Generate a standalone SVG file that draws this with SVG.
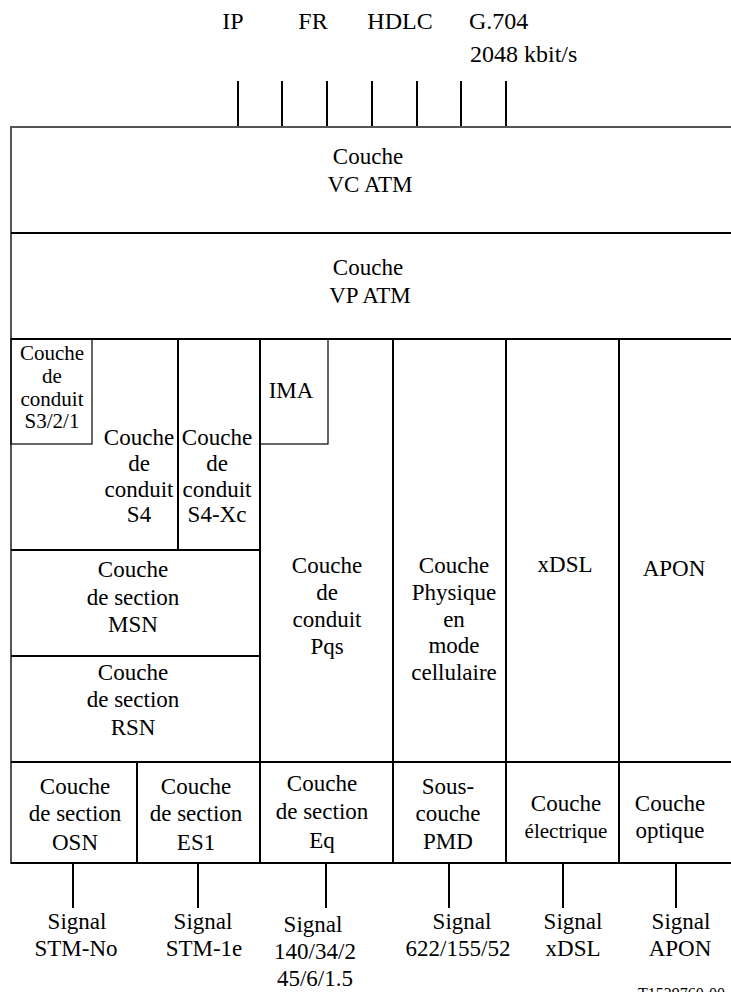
<svg xmlns="http://www.w3.org/2000/svg" width="731" height="992" viewBox="0 0 731 992" font-family="Liberation Serif, Tinos, DejaVu Serif, Noto Serif, serif">
  <style>
    text { font-size: 23px; fill: #000; text-anchor: middle; }
    .top { font-size: 24px; }
    .left { text-anchor: start; }
    .small { font-size: 21px; }
    .code { font-size: 16px; text-anchor: start; }
    .ln { stroke: #000; stroke-width: 2; fill: none; }
    .thin { stroke: #000; stroke-width: 1.2; fill: none; }
    .edge { stroke: #555; stroke-width: 2; fill: none; }
  </style>

  <rect width="731" height="992" fill="#fff"/>

  <!-- input protocols above the stack -->
  <g id="inputs">
    <text class="top" x="233" y="29">IP</text>
    <text class="top" x="313" y="29">FR</text>
    <text class="top" x="400" y="29">HDLC</text>
    <text class="top left" x="469" y="29">G.704</text>
    <text class="top left" x="470" y="62">2048 kbit/s</text>
  </g>

  <!-- connectors: input ticks and output signal ticks -->
  <g id="connectors" class="ln">
    <line x1="238" y1="81" x2="238" y2="127"/>
    <line x1="282" y1="81" x2="282" y2="127"/>
    <line x1="327" y1="81" x2="327" y2="127"/>
    <line x1="372" y1="81" x2="372" y2="127"/>
    <line x1="417" y1="81" x2="417" y2="127"/>
    <line x1="461" y1="81" x2="461" y2="127"/>
    <line x1="506" y1="81" x2="506" y2="127"/>

    <line x1="73" y1="863" x2="73" y2="908"/>
    <line x1="198" y1="863" x2="198" y2="908"/>
    <line x1="326" y1="863" x2="326" y2="908"/>
    <line x1="449" y1="863" x2="449" y2="908"/>
    <line x1="563" y1="863" x2="563" y2="908"/>
    <line x1="676" y1="863" x2="676" y2="908"/>
  </g>

  <!-- layer grid -->
  <g id="grid">
    <line class="edge" x1="11" y1="127" x2="733" y2="127"/>
    <line class="edge" x1="11" y1="126" x2="11" y2="864"/>
    <line class="ln" x1="11" y1="863" x2="733" y2="863"/>
    <line class="ln" x1="11" y1="233" x2="733" y2="233"/>
    <line class="ln" x1="11" y1="339" x2="733" y2="339"/>
    <line class="ln" x1="11" y1="550" x2="260" y2="550"/>
    <line class="ln" x1="11" y1="656" x2="260" y2="656"/>
    <line class="ln" x1="11" y1="762" x2="733" y2="762"/>
    <line class="ln" x1="178" y1="339" x2="178" y2="550"/>
    <line class="ln" x1="260" y1="339" x2="260" y2="863"/>
    <line class="ln" x1="393" y1="339" x2="393" y2="863"/>
    <line class="ln" x1="506" y1="339" x2="506" y2="863"/>
    <line class="ln" x1="619" y1="339" x2="619" y2="863"/>
    <line class="ln" x1="137" y1="762" x2="137" y2="863"/>
  </g>

  <g id="vc-atm">
    <text x="368" y="164">Couche</text>
    <text x="370" y="192">VC ATM</text>
  </g>

  <g id="vp-atm">
    <text x="368" y="275">Couche</text>
    <text x="370" y="303">VP ATM</text>
  </g>

  <g id="conduit-s321">
    <rect class="thin" x="11" y="339" width="81" height="105"/>
    <text class="small" x="52" y="360">Couche</text>
    <text class="small" x="52" y="383">de</text>
    <text class="small" x="52" y="406">conduit</text>
    <text class="small" x="52" y="428">S3/2/1</text>
  </g>

  <g id="conduit-s4">
    <text x="139" y="445">Couche</text>
    <text x="139" y="471">de</text>
    <text x="139" y="497">conduit</text>
    <text x="139" y="522">S4</text>
  </g>

  <g id="conduit-s4xc">
    <text x="217" y="445">Couche</text>
    <text x="217" y="471">de</text>
    <text x="217" y="497">conduit</text>
    <text x="217" y="522">S4-Xc</text>
  </g>

  <g id="ima">
    <rect class="thin" x="260" y="339" width="68" height="105"/>
    <text x="291" y="398">IMA</text>
  </g>

  <g id="section-msn">
    <text x="133" y="577">Couche</text>
    <text x="133" y="605">de section</text>
    <text x="133" y="632">MSN</text>
  </g>

  <g id="section-rsn">
    <text x="133" y="680">Couche</text>
    <text x="133" y="707">de section</text>
    <text x="133" y="735">RSN</text>
  </g>

  <g id="conduit-pqs">
    <text x="327" y="573">Couche</text>
    <text x="327" y="600">de</text>
    <text x="327" y="627">conduit</text>
    <text x="327" y="654">Pqs</text>
  </g>

  <g id="physique-cellulaire">
    <text x="454" y="573">Couche</text>
    <text x="454" y="600">Physique</text>
    <text x="454" y="627">en</text>
    <text x="454" y="653">mode</text>
    <text x="454" y="680">cellulaire</text>
  </g>

  <g id="xdsl">
    <text x="565" y="572">xDSL</text>
  </g>

  <g id="apon">
    <text x="674" y="576">APON</text>
  </g>

  <g id="section-osn">
    <text x="75" y="794">Couche</text>
    <text x="75" y="821">de section</text>
    <text x="75" y="850">OSN</text>
  </g>

  <g id="section-es1">
    <text x="196" y="794">Couche</text>
    <text x="196" y="821">de section</text>
    <text x="196" y="850">ES1</text>
  </g>

  <g id="section-eq">
    <text x="322" y="791">Couche</text>
    <text x="322" y="819">de section</text>
    <text x="322" y="848">Eq</text>
  </g>

  <g id="pmd">
    <text x="448" y="794">Sous-</text>
    <text x="448" y="821">couche</text>
    <text x="448" y="849">PMD</text>
  </g>

  <g id="electrique">
    <text x="566" y="811">Couche</text>
    <text class="small" x="566" y="838">électrique</text>
  </g>

  <g id="optique">
    <text x="670" y="811">Couche</text>
    <text x="670" y="838">optique</text>
  </g>

  <!-- output signals -->
  <g id="sig-stm-no">
    <text x="77" y="929">Signal</text>
    <text x="76" y="956">STM-No</text>
  </g>
  <g id="sig-stm-1e">
    <text x="203" y="929">Signal</text>
    <text x="204" y="956">STM-1e</text>
  </g>
  <g id="sig-pdh">
    <text x="313" y="932">Signal</text>
    <text x="315" y="959">140/34/2</text>
    <text x="315" y="986">45/6/1.5</text>
  </g>
  <g id="sig-622">
    <text x="462" y="929">Signal</text>
    <text x="458" y="956">622/155/52</text>
  </g>
  <g id="sig-xdsl">
    <text x="573" y="929">Signal</text>
    <text x="573" y="956">xDSL</text>
  </g>
  <g id="sig-apon">
    <text x="681" y="929">Signal</text>
    <text x="680" y="956">APON</text>
  </g>

  <text class="code" x="638" y="999">T1539760-00</text>
</svg>
